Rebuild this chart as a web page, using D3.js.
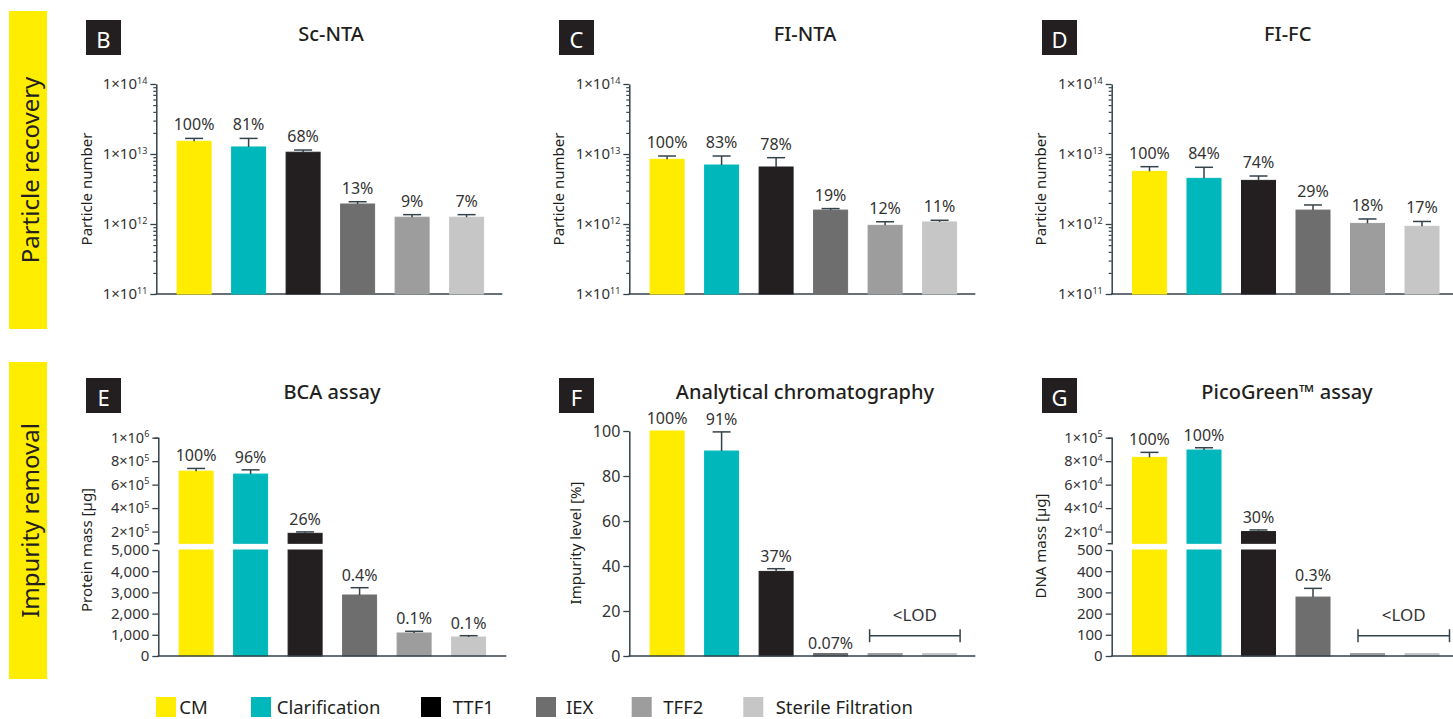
<!DOCTYPE html>
<html>
<head>
<meta charset="utf-8">
<script src="https://cdn.jsdelivr.net/npm/d3@7"></script>
<style>
  body { margin: 0; background: #ffffff; }
  text { font-family: "Noto Sans", sans-serif; }
</style>
</head>
<body>
<svg id="chart" width="1453" height="719"></svg>
<script>
// ---- Data -------------------------------------------------------------
const groups = ["CM", "Clarification", "TTF1", "IEX", "TFF2", "Sterile Filtration"];
const groupColors = ["#FFEC00", "#00B8BC", "#231F20", "#6E6E6E", "#9D9D9D", "#C6C6C6"];

const logTicks = [1e11, 1e12, 1e13, 1e14];

// B: Sc-NTA particle number (mean, SD)
const scNtaValues = [1.52e13, 1.26e13, 1.06e13, 1.93e12, 1.25e12, 1.25e12];
const scNtaSD     = [1.5e12, 4.1e12, 0.8e12, 1.5e11, 1.1e11, 1.1e11];
const scNtaLabels = ["100%", "81%", "68%", "13%", "9%", "7%"];

// C: Fl-NTA particle number
const flNtaValues = [8.4e12, 6.96e12, 6.52e12, 1.58e12, 9.57e11, 1.07e12];
const flNtaSD     = [0.96e12, 2.4e12, 2.34e12, 0.8e11, 1.2e11, 0.6e11];
const flNtaLabels = ["100%", "83%", "78%", "19%", "12%", "11%"];

// D: Fl-FC particle number
const flFcValues = [5.65e12, 4.49e12, 4.2e12, 1.58e12, 1.02e12, 9.27e11];
const flFcSD     = [0.94e12, 1.97e12, 0.65e12, 0.29e12, 0.16e12, 0.16e12];
const flFcLabels = ["100%", "84%", "74%", "29%", "18%", "17%"];

// E: BCA assay, protein mass [µg]
const bcaValues = [715000, 690000, 185000, 2877, 1085, 896];
const bcaSD     = [23000, 36000, 12000, 345, 80, 62];
const bcaLabels = ["100%", "96%", "26%", "0.4%", "0.1%", "0.1%"];
const bcaUpperTicks = [2e5, 4e5, 6e5, 8e5, 1e6];
const bcaLowerTicks = [0, 1000, 2000, 3000, 4000, 5000];

// F: Analytical chromatography, impurity level [%]
const chromValues = [100, 91.1, 37.6, 0.07, 0.5, 0.05];
const chromSD     = [0, 8.5, 1.2, 0, 0, 0];
const chromLabels = ["100%", "91%", "37%", "0.07%", null, null];
const chromTicks  = [0, 20, 40, 60, 80, 100];

// G: PicoGreen assay, DNA mass [µg]
const picoValues = [83250, 89500, 20000, 278, 9, 4];
const picoSD     = [4250, 1950, 1370, 41, 0, 0];
const picoLabels = ["100%", "100%", "30%", "0.3%", null, null];
const picoUpperTicks = [2e4, 4e4, 6e4, 8e4, 1e5];
const picoLowerTicks = [0, 100, 200, 300, 400, 500];

const lodText = "<LOD";

// ---- Drawing helpers --------------------------------------------------
const svg = d3.select("#chart");
const AXIS = "#34424a";
const INK = "#333333";
const MIN_BAR_PX = 2.5;   // keeps tiny nonzero bars visible above the baseline

function bandFor(axisX) {
  return d3.scaleBand().domain(groups)
    .range([axisX + 20.3, axisX + 327.8])
    .paddingInner(0.358).paddingOuter(0);
}

function sciLabel(textSel) {
  textSel.each(function (d) {
    const e = Math.floor(Math.log10(d) + 1e-9);
    const m = Math.round(d / Math.pow(10, e));
    const t = d3.select(this).text(null);
    t.append("tspan").text(m + "×10");
    t.append("tspan").attr("dy", "-0.6em").attr("font-size", "9px").text(e);
  });
}

function styleAxis(g) {
  g.select(".domain").attr("stroke", AXIS).attr("stroke-width", 1.5);
  g.selectAll(".tick line").attr("stroke", AXIS).attr("stroke-width", 1.3);
  g.selectAll(".tick text").attr("fill", INK).attr("font-size", "15px")
    .attr("font-family", "Noto Sans, sans-serif");
}

function header(letter, boxX, boxY, title, titleX) {
  svg.append("rect").attr("x", boxX).attr("y", boxY).attr("width", 35).attr("height", 35)
    .attr("fill", "#231F20");
  svg.append("text").attr("x", boxX + 17.5).attr("y", boxY + 18.5)
    .attr("text-anchor", "middle").attr("dominant-baseline", "central")
    .attr("fill", "#ffffff").attr("font-size", "22px").text(letter);
  svg.append("text").attr("x", titleX).attr("y", boxY + 13)
    .attr("text-anchor", "middle").attr("dominant-baseline", "central")
    .attr("fill", "#231F20").attr("font-size", "20px").attr("font-weight", 500).text(title);
}

function yTitle(text, x, y) {
  svg.append("text").attr("transform", `translate(${x},${y}) rotate(-90)`)
    .attr("text-anchor", "middle").attr("dominant-baseline", "central")
    .attr("fill", "#231F20").attr("font-size", "15px").text(text);
}

function baseline(axisX, y, len) {
  svg.append("line").attr("x1", axisX - 0.75).attr("x2", axisX + len)
    .attr("y1", y).attr("y2", y).attr("stroke", AXIS).attr("stroke-width", 1.5);
}

function bar(g, x, y0, y1, color) {
  g.append("rect").attr("x", x + 0.5).attr("width", 34)
    .attr("y", Math.min(y0, y1)).attr("height", Math.abs(y1 - y0))
    .attr("fill", color).attr("stroke", color).attr("stroke-width", 1);
}

function errorBar(g, cx, yTop, yEnd) {
  g.append("line").attr("x1", cx).attr("x2", cx).attr("y1", yTop).attr("y2", yEnd)
    .attr("stroke", AXIS).attr("stroke-width", 1.5);
  g.append("line").attr("x1", cx - 9).attr("x2", cx + 9).attr("y1", yEnd).attr("y2", yEnd)
    .attr("stroke", AXIS).attr("stroke-width", 1.5);
}

function valueLabel(g, cx, y, text) {
  if (!text) return;
  g.append("text").attr("x", cx).attr("y", y).attr("text-anchor", "middle")
    .attr("fill", INK).attr("font-size", "16px").text(text);
}

function lodBracket(x1, x2, y) {
  const g = svg.append("g").attr("stroke", AXIS).attr("stroke-width", 1.5);
  g.append("line").attr("x1", x1).attr("x2", x2).attr("y1", y).attr("y2", y);
  g.append("line").attr("x1", x1).attr("x2", x1).attr("y1", y - 6.5).attr("y2", y + 6.5);
  g.append("line").attr("x1", x2).attr("x2", x2).attr("y1", y - 6.5).attr("y2", y + 6.5);
  svg.append("text").attr("x", (x1 + x2) / 2).attr("y", y - 21)
    .attr("text-anchor", "middle").attr("dominant-baseline", "central")
    .attr("fill", INK).attr("font-size", "17px").text(lodText);
}

// Log-scaled particle-count panel
function logPanel(axisX, values, sds, labels) {
  const y = d3.scaleLog().domain([1e11, 1e14]).range([294, 84]);
  const x = bandFor(axisX);
  const minor = [];
  for (let e = 11; e < 14; e++) for (let m = 2; m <= 9; m++) minor.push(m * Math.pow(10, e));

  svg.append("g").attr("transform", `translate(${axisX},0)`)
    .call(d3.axisLeft(y).tickValues(minor).tickSize(3).tickFormat(""))
    .call(g => { g.select(".domain").remove(); g.selectAll(".tick line").attr("stroke", AXIS).attr("stroke-width", 1.2); });
  svg.append("g").attr("transform", `translate(${axisX},0)`)
    .call(d3.axisLeft(y).tickValues(logTicks).tickSize(6).tickSizeOuter(0).tickPadding(3))
    .call(styleAxis)
    .call(g => g.selectAll(".tick text").call(sciLabel));
  baseline(axisX, 294, 346);

  const g = svg.append("g");
  groups.forEach((k, i) => {
    const bx = x(k), cx = bx + x.bandwidth() / 2;
    bar(g, bx, y(1e11), y(values[i]), groupColors[i]);
    const top = values[i] + sds[i];
    if (sds[i] > 0) errorBar(g, cx, y(values[i]), y(top));
    valueLabel(g, cx, y(top) - 8, labels[i]);
  });
}

// Panel with a broken y axis (upper large-value segment, lower small-value segment)
function splitPanel(axisX, lowerMax, upperMin, upperMax, upperTicks, lowerTicks, values, sds, labels, lowerFmt) {
  const yU = d3.scaleLinear().domain([upperMin, upperMax]).range([543.3, 437.7]);
  const yL = d3.scaleLinear().domain([0, lowerMax]).range([656, 550]);
  const x = bandFor(axisX);

  svg.append("g").attr("transform", `translate(${axisX},0)`)
    .call(d3.axisLeft(yU).tickValues(upperTicks).tickSize(6).tickSizeOuter(4).tickPadding(3))
    .call(styleAxis)
    .call(g => g.selectAll(".tick text").attr("font-size", "14.5px").call(sciLabel));
  svg.append("g").attr("transform", `translate(${axisX},0)`)
    .call(d3.axisLeft(yL).tickValues(lowerTicks).tickSize(6).tickSizeOuter(0).tickPadding(3).tickFormat(lowerFmt))
    .call(styleAxis);

  const g = svg.append("g");
  groups.forEach((k, i) => {
    const bx = x(k), cx = bx + x.bandwidth() / 2;
    const v = values[i], top = v + sds[i];
    if (v > lowerMax) {
      bar(g, bx, yL(0), yL(lowerMax), groupColors[i]);
      bar(g, bx, yU(upperMin), yU(v), groupColors[i]);
      if (sds[i] > 0) errorBar(g, cx, yU(v), yU(top));
      valueLabel(g, cx, yU(top) - 7, labels[i]);
    } else {
      bar(g, bx, yL(0), Math.min(yL(v), yL(0) - MIN_BAR_PX), groupColors[i]);
      if (sds[i] > 0) errorBar(g, cx, yL(v), yL(top));
      valueLabel(g, cx, yL(top) - 7, labels[i]);
    }
  });
  baseline(axisX, 656, 348);
  return x;
}

// Linear percentage panel
function linearPanel(axisX, values, sds, labels) {
  const y = d3.scaleLinear().domain([0, 100]).range([656, 431]);
  const x = bandFor(axisX);
  svg.append("g").attr("transform", `translate(${axisX},0)`)
    .call(d3.axisLeft(y).tickValues(chromTicks).tickSize(6).tickSizeOuter(0).tickPadding(3))
    .call(styleAxis)
    .call(g => g.selectAll(".tick text").attr("font-size", "16px"));
  const g = svg.append("g");
  groups.forEach((k, i) => {
    const bx = x(k), cx = bx + x.bandwidth() / 2;
    const v = values[i], top = v + sds[i];
    bar(g, bx, y(0), Math.min(y(v), y(0) - MIN_BAR_PX), groupColors[i]);
    if (sds[i] > 0) errorBar(g, cx, y(v), y(top));
    valueLabel(g, cx, y(top) - 7, labels[i]);
  });
  baseline(axisX, 656, 346);
  return x;
}

// ---- Side bands -------------------------------------------------------
[["Particle recovery", 11, 318], ["Impurity removal", 362, 317]].forEach(([t, y0, h]) => {
  svg.append("rect").attr("x", 9).attr("y", y0).attr("width", 38).attr("height", h).attr("fill", "#FFED00");
  svg.append("text").attr("transform", `translate(29,${y0 + h / 2}) rotate(-90)`)
    .attr("text-anchor", "middle").attr("dominant-baseline", "central")
    .attr("fill", "#231F20").attr("font-size", "24px").text(t);
});

// ---- Particle recovery row -------------------------------------------
header("B", 86, 20, "Sc-NTA", 331);
yTitle("Particle number", 86, 189);
logPanel(156.3, scNtaValues, scNtaSD, scNtaLabels);

header("C", 559, 20, "FI-NTA", 805);
yTitle("Particle number", 558, 189);
logPanel(629.3, flNtaValues, flNtaSD, flNtaLabels);

header("D", 1042, 20, "FI-FC", 1287.7);
yTitle("Particle number", 1039.5, 189);
logPanel(1111.7, flFcValues, flFcSD, flFcLabels);

// ---- Impurity removal row ---------------------------------------------
header("E", 86, 378, "BCA assay", 332);
yTitle("Protein mass [µg]", 85.5, 550);
splitPanel(158.3, 5000, 1e5, 1e6, bcaUpperTicks, bcaLowerTicks, bcaValues, bcaSD, bcaLabels, d3.format(","));

header("F", 559, 378, "Analytical chromatography", 805);
yTitle("Impurity level [%]", 575, 543);
const xF = linearPanel(629.3, chromValues, chromSD, chromLabels);
lodBracket(xF("TFF2") + 2, xF("Sterile Filtration") + xF.bandwidth() + 3, 635.7);

header("G", 1042, 378, "PicoGreen™ assay", 1287);
yTitle("DNA mass [µg]", 1040, 546);
const xG = splitPanel(1111.7, 500, 1e4, 1e5, picoUpperTicks, picoLowerTicks, picoValues, picoSD, picoLabels, d3.format("d"));
lodBracket(xG("TFF2") + 8, xG("Sterile Filtration") + xG.bandwidth() + 10, 635.7);

// ---- Legend -------------------------------------------------------------
const legendSwatchX = [156, 251, 421, 536, 631.7, 743.3];
const legendTextX   = [179.3, 276.7, 452.7, 566, 663.3, 775.7];
const legend = svg.append("g");
groups.forEach((k, i) => {
  legend.append("rect").attr("x", legendSwatchX[i]).attr("y", 697).attr("width", 20).attr("height", 20)
    .attr("fill", i === 2 ? "#000000" : groupColors[i]);
  legend.append("text").attr("x", legendTextX[i]).attr("y", 706).attr("dominant-baseline", "central")
    .attr("fill", "#231F20").attr("font-size", "18.5px").text(k);
});
</script>
</body>
</html>
